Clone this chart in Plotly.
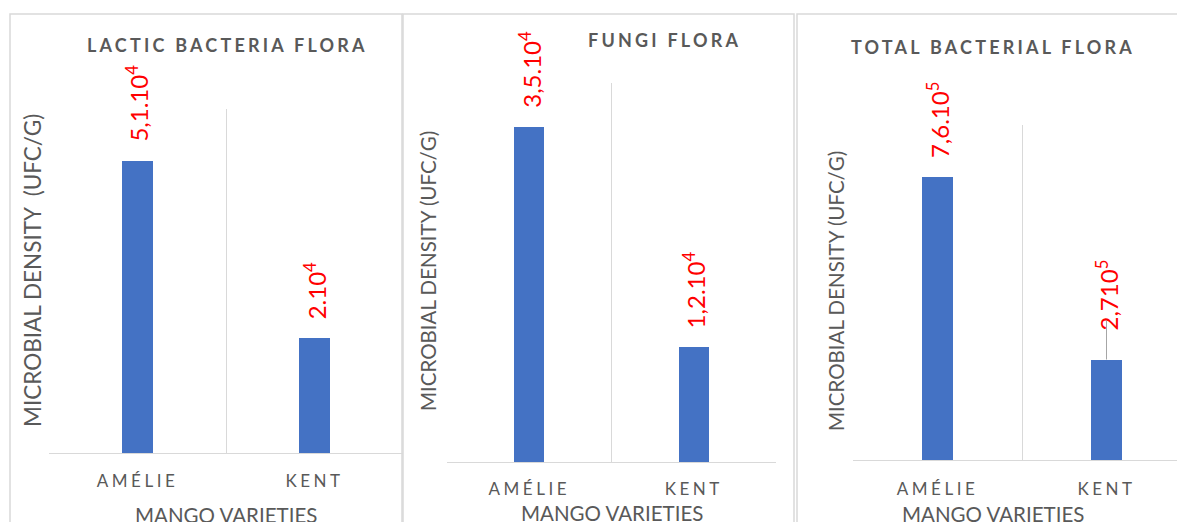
import plotly.graph_objects as go

W, H = 1177, 522

# Data
varieties = ["AMÉLIE", "KENT"]
lactic_values = [51000, 20000]
lactic_labels = ["5,1.10<sup>4</sup>", "2.10<sup>4</sup>"]
fungi_values = [35000, 12000]
fungi_labels = ["3,5.10<sup>4</sup>", "1,2.10<sup>4</sup>"]
total_values = [760000, 270000]
total_labels = ["7,6.10<sup>5</sup>", "2,710<sup>5</sup>"]

titles = ["LACTIC BACTERIA FLORA", "FUNGI FLORA", "TOTAL BACTERIAL FLORA"]
y_titles = ["MICROBIAL DENSITY  (UFC/G)", "MICROBIAL DENSITY (UFC/G)", "MICROBIAL DENSITY (UFC/G)"]
x_title = "MANGO VARIETIES"

BAR = "#4472C4"
GREY_TXT = "#595959"
GRID = "#D9D9D9"
RED = "#FF0000"
FONT = "Lato"


def px(x):
    return x / W


def py(y):
    return 1 - y / H


# panel layout in pixels: plot box (left, right, top, bottom), y max, panel frame
panels = [
    dict(vals=lactic_values, labels=lactic_labels, l=49, r=403, t=109, b=453, ymax=60000,
         frame=(10, 402), title_x=227, title_y=45, ytitle_x=32, ytitle_y=271, ytitle_size=22.5,
         tick_y=480, xtitle_y=515),
    dict(vals=fungi_values, labels=fungi_labels, l=447, r=776, t=83, b=462, ymax=39600,
         frame=(403, 794), title_x=664, title_y=40, ytitle_x=428, ytitle_y=271, ytitle_size=20.5,
         tick_y=488, xtitle_y=513),
    dict(vals=total_values, labels=total_labels, l=853, r=1191, t=125, b=460, ymax=900000,
         frame=(797, 1300), title_x=993, title_y=47, ytitle_x=836, ytitle_y=291, ytitle_size=20.5,
         tick_y=488, xtitle_y=514),
]

fig = go.Figure()
annotations = []
shapes = []
layout = {}

for i, p in enumerate(panels):
    n = "" if i == 0 else str(i + 1)
    xa, ya = "x" + n, "y" + n
    fig.add_trace(go.Bar(
        x=varieties, y=p["vals"], xaxis=xa, yaxis=ya, width=0.18,
        marker=dict(color=BAR, line=dict(width=0)), showlegend=False,
        hoverinfo="x+y",
    ))
    # plot box may run past the page edge; keep domain inside and trim range
    right = min(p["r"], W)
    cat_w = (p["r"] - p["l"]) / 2.0
    x_hi = 1.5 - (p["r"] - right) / cat_w
    layout["xaxis" + n] = dict(
        domain=[px(p["l"]), px(right)], range=[-0.5, x_hi], anchor=ya,
        type="category", tickson="boundaries", showgrid=True, gridcolor=GRID, gridwidth=1,
        showline=True, linecolor=GRID, linewidth=1, ticks="", zeroline=False,
        tickmode="array", tickvals=varieties,
        ticktext=[f"<span style='letter-spacing:3.5px'>{v}</span>" for v in varieties],
        tickfont=dict(family=FONT, size=17, color=GREY_TXT),
        ticklabelstandoff=p["tick_y"] - p["b"] - 14,
    )
    layout["yaxis" + n] = dict(
        domain=[py(p["b"]), py(p["t"])], range=[0, p["ymax"]], anchor=xa,
        showgrid=False, showticklabels=False, zeroline=False, showline=False, ticks="",
    )
    # value labels above the bars
    for j, (cat, v, lab) in enumerate(zip(varieties, p["vals"], p["labels"])):
        leader = (i == 2 and j == 1)
        annotations.append(dict(
            x=cat, y=v, xref=xa, yref=ya, text=lab, textangle=-90,
            font=dict(family=FONT, size=24, color=RED),
            showarrow=False, yanchor="bottom", yshift=27 if leader else 17,
        ))
        if leader:
            # leader line from the bar top towards its moved label
            annotations.append(dict(
                x=cat, y=v, xref=xa, yref=ya, text=" ", showarrow=True,
                arrowhead=0, arrowwidth=1, arrowcolor="#A6A6A6", ax=0, ay=-41,
                font=dict(size=1),
            ))
    # chart title
    annotations.append(dict(
        x=px(p["title_x"]), y=py(p["title_y"]), xref="paper", yref="paper",
        text=f"<span style='letter-spacing:3.2px'><b>{titles[i]}</b></span>",
        showarrow=False, xanchor="center", yanchor="middle",
        font=dict(family=FONT, size=18, color=GREY_TXT),
    ))
    # y axis title
    annotations.append(dict(
        x=px(p["ytitle_x"]), y=py(p["ytitle_y"]), xref="paper", yref="paper",
        text=y_titles[i], textangle=-90, showarrow=False,
        xanchor="center", yanchor="middle",
        font=dict(family=FONT, size=p["ytitle_size"], color=GREY_TXT),
    ))
    # x axis title
    annotations.append(dict(
        x=px((p["l"] + p["r"]) / 2 if i < 2 else 993), y=py(p["xtitle_y"]),
        xref="paper", yref="paper", text=x_title, showarrow=False,
        xanchor="center", yanchor="middle",
        font=dict(family=FONT, size=20.5, color=GREY_TXT),
    ))
    # chart frame
    f0, f1 = p["frame"]
    shapes.append(dict(type="rect", xref="paper", yref="paper",
                       x0=px(f0), x1=px(f1), y0=py(14), y1=py(600),
                       line=dict(color=GRID, width=1.5), layer="below"))

fig.update_layout(
    width=W, height=H, margin=dict(l=0, r=0, t=0, b=0),
    paper_bgcolor="white", plot_bgcolor="white",
    annotations=annotations, shapes=shapes, bargap=0.0,
    font=dict(family=FONT, color=GREY_TXT),
    **layout,
)

fig.write_html("out.html")
